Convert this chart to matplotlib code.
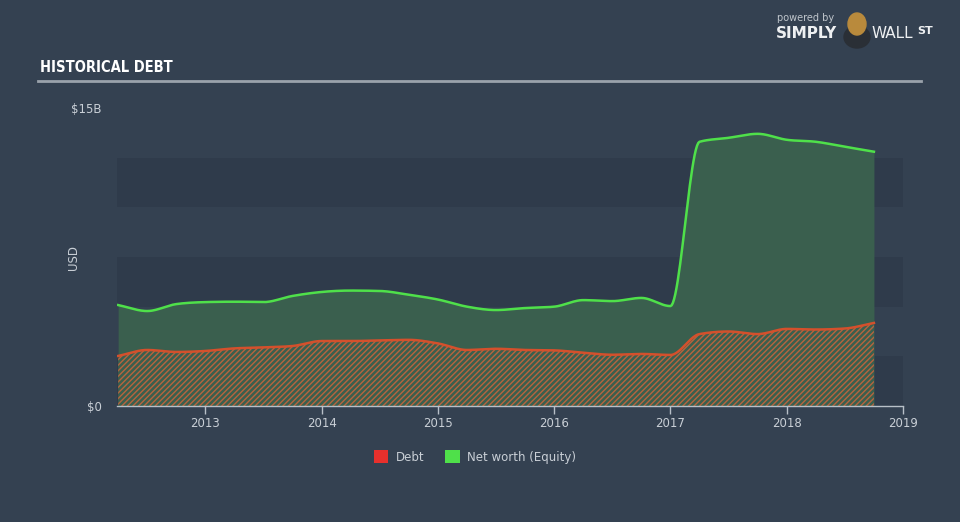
import numpy as np
import matplotlib
matplotlib.use('Agg')
import matplotlib.pyplot as plt
from matplotlib.patches import Patch, Ellipse

# quarterly data, values in billions USD
dates = [2012.25, 2012.50, 2012.75, 2013.00, 2013.25, 2013.50, 2013.75,
         2014.00, 2014.25, 2014.50, 2014.75, 2015.00, 2015.25, 2015.50,
         2015.75, 2016.00, 2016.25, 2016.50, 2016.75, 2017.00, 2017.25,
         2017.50, 2017.75, 2018.00, 2018.25, 2018.50, 2018.75]
equity = [5.08, 4.78, 5.13, 5.23, 5.25, 5.23, 5.54, 5.74, 5.81, 5.79, 5.60,
          5.36, 5.00, 4.83, 4.93, 5.00, 5.33, 5.28, 5.44, 5.03, 13.30, 13.50,
          13.70, 13.40, 13.30, 13.05, 12.80]
debt = [2.52, 2.82, 2.72, 2.77, 2.90, 2.95, 3.02, 3.27, 3.27, 3.30, 3.33,
        3.15, 2.82, 2.88, 2.82, 2.80, 2.68, 2.58, 2.62, 2.57, 3.62, 3.75,
        3.62, 3.88, 3.85, 3.90, 4.18]
year_ticks = [2013, 2014, 2015, 2016, 2017, 2018, 2019]

BG = '#344151'
BAND_DARK = '#2f3b4b'
GREEN = '#4fe04a'
GREEN_FILL = '#3a5f4e'
RED_LINE = '#d4502c'
TXT = '#c9cfd6'


def monotone(x, y, n=24):
    # monotone cubic curve for drawing the smooth line
    x = np.asarray(x, float)
    y = np.asarray(y, float)
    h = np.diff(x)
    s = np.diff(y) / h
    m = np.zeros_like(y)
    m[0] = s[0]
    m[-1] = s[-1]
    for k in range(1, len(x) - 1):
        p = (s[k - 1] * h[k] + s[k] * h[k - 1]) / (h[k - 1] + h[k])
        m[k] = (np.sign(s[k - 1]) + np.sign(s[k])) * min(abs(s[k - 1]), abs(s[k]), 0.5 * abs(p))
    xs, ys = [], []
    for k in range(len(x) - 1):
        t = np.linspace(0, 1, n, endpoint=False)
        h00 = 2 * t**3 - 3 * t**2 + 1
        h10 = t**3 - 2 * t**2 + t
        h01 = -2 * t**3 + 3 * t**2
        h11 = t**3 - t**2
        xs.append(x[k] + t * h[k])
        ys.append(h00 * y[k] + h10 * h[k] * m[k] + h01 * y[k + 1] + h11 * h[k] * m[k + 1])
    xs.append([x[-1]])
    ys.append([y[-1]])
    return np.concatenate(xs), np.concatenate(ys)


plt.rcParams['hatch.linewidth'] = 1.0

fig = plt.figure(figsize=(9.6, 5.22), dpi=100, facecolor=BG)
ax = fig.add_axes([117 / 960, 1 - 406 / 522, 786 / 960, 298 / 522])
ax.set_facecolor(BG)

ax.set_xlim(2012.24, 2019.0)
ax.set_ylim(0, 15)

# alternating bands
for lo in [0, 5, 10]:
    ax.axhspan(lo, lo + 2.5, color=BAND_DARK, lw=0, zorder=0)

ex, ey = monotone(dates, equity)
dx, dy = monotone(dates, debt)

ax.fill_between(ex, 0, ey, color=GREEN_FILL, lw=0, zorder=1)
ax.fill_between(dx, 0, dy, facecolor=GREEN_FILL, edgecolor='#b8643e',
                hatch='//////', lw=0, zorder=2)
ax.plot(ex, ey, color=GREEN, lw=1.8, zorder=3)
ax.plot(dx, dy, color=RED_LINE, lw=1.8, zorder=3)

for sp in ['top', 'right', 'left']:
    ax.spines[sp].set_visible(False)
ax.spines['bottom'].set_color('#b8c0c8')
ax.spines['bottom'].set_linewidth(1)

ax.set_xticks(year_ticks)
ax.set_xticklabels([str(y) for y in year_ticks])
ax.tick_params(axis='x', colors='#b8c0c8', labelcolor=TXT, length=6, width=1,
               labelsize=8.5, pad=2)
ax.set_yticks([0, 15])
ax.set_yticklabels(['$0', '$15B'])
ax.tick_params(axis='y', length=0, labelcolor=TXT, labelsize=8.5, pad=11)
ax.set_ylabel('USD', color=TXT, fontsize=8.5)
ax.yaxis.set_label_coords(-37 / 786, 0.5)

# title and rule
fig.text(40 / 960, 1 - 68 / 522, 'HISTORICAL DEBT', color='white', fontsize=10.5,
         fontweight='bold', fontstretch='condensed', family='DejaVu Sans',
         va='center', ha='left')
fig.add_artist(plt.Line2D([38 / 960, 921 / 960], [1 - 81 / 522, 1 - 81 / 522],
                          color='#9aa2ab', lw=2))

# branding
fig.text(777 / 960, 1 - 18 / 522, 'powered by', color='#c0c6cc', fontsize=7,
         va='center', ha='left')
fig.text(776 / 960, 1 - 33 / 522, 'SIMPLY', color='#eef0f2', fontsize=11,
         fontweight='bold', va='center', ha='left')
fig.text(872 / 960, 1 - 33 / 522, 'WALL', color='#eef0f2', fontsize=11,
         va='center', ha='left')
fig.text(917 / 960, 1 - 31 / 522, 'ST', color='#eef0f2', fontsize=8,
         fontweight='bold', va='center', ha='left')
fig.add_artist(Ellipse((857 / 960, 1 - 37 / 522), 26 / 960, 22 / 522, color='#2a2f36'))
fig.add_artist(Ellipse((857 / 960, 1 - 24 / 522), 18 / 960, 22 / 522, color='#b98a3c'))

handles = [Patch(facecolor='#e8302c', label='Debt'),
           Patch(facecolor=GREEN, label='Net worth (Equity)')]
leg = fig.legend(handles=handles, loc='center', bbox_to_anchor=(475 / 960, 1 - 457 / 522),
                 ncol=2, frameon=False, fontsize=8.5, handlelength=1.2,
                 handleheight=1.2, columnspacing=1.8, handletextpad=0.6)
for t in leg.get_texts():
    t.set_color(TXT)

fig.savefig('out.png', dpi=100, facecolor=BG)
